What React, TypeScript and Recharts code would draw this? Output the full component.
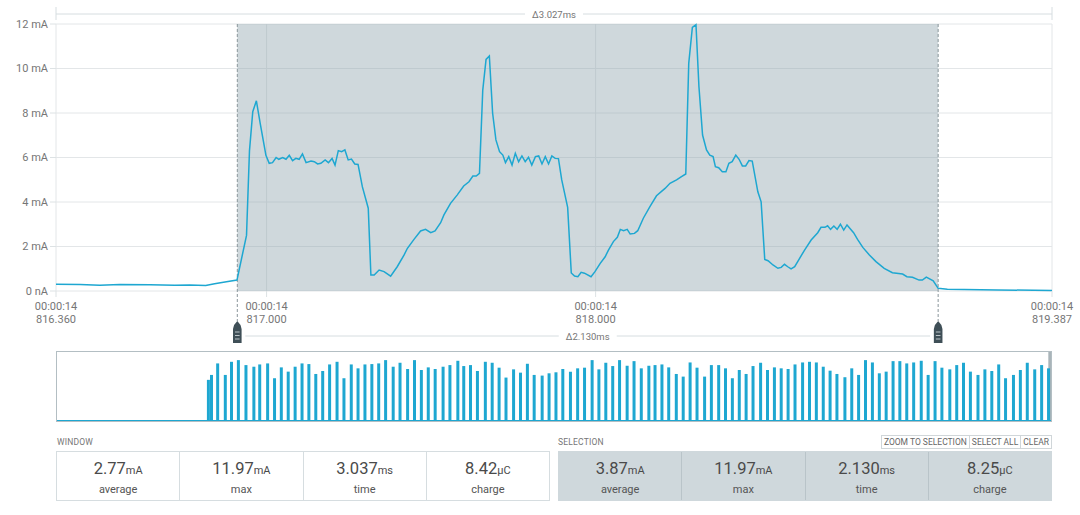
import React from 'react';
import {
  LineChart,
  Line,
  XAxis,
  YAxis,
  CartesianGrid,
  ReferenceArea,
  ReferenceLine,
  BarChart,
  Bar,
} from 'recharts';

const FONT = 'Roboto, "Noto Sans", sans-serif';
const TRACE = '#1ea7d1';
const TEXT = '#767676';

// window + selection (ms)
const windowRange = [816.36, 819.387];
const selectionRange = [816.911, 819.041];
const timeTicks = [816.36, 817, 818, 819.387];
const timePrefix = '00:00:14';
const currentTicks = [0, 2, 4, 6, 8, 10, 12];
const windowDelta = 'Δ3.027ms';
const selectionDelta = 'Δ2.130ms';

// [time ms, current mA]
const trace: [number, number][] = [
  [816.36, 0.3], [816.433, 0.29], [816.493, 0.26], [816.554, 0.29], [816.645, 0.28],
  [816.721, 0.26], [816.766, 0.27], [816.815, 0.25], [816.842, 0.33], [816.878, 0.42],
  [816.91, 0.49], [816.939, 2.5], [816.948, 6.3], [816.958, 8.06], [816.969, 8.55],
  [816.981, 7.5], [816.998, 6.1], [817.008, 5.74], [817.018, 5.77], [817.029, 6.0],
  [817.037, 5.92], [817.049, 6.0], [817.059, 5.92], [817.069, 6.1], [817.079, 5.86],
  [817.089, 5.96], [817.099, 5.92], [817.109, 6.16], [817.12, 5.77], [817.135, 5.84],
  [817.145, 5.81], [817.155, 5.71], [817.165, 5.74], [817.178, 5.89], [817.188, 5.77],
  [817.199, 5.96], [817.208, 5.66], [817.218, 6.31], [817.228, 6.26], [817.238, 6.34],
  [817.248, 5.89], [817.258, 5.93], [817.268, 5.71], [817.278, 5.69], [817.291, 4.69],
  [817.309, 3.72], [817.317, 0.72], [817.327, 0.72], [817.342, 0.94], [817.357, 0.87],
  [817.377, 0.67], [817.397, 1.09], [817.418, 1.62], [817.428, 1.92], [817.448, 2.32],
  [817.468, 2.7], [817.483, 2.77], [817.499, 2.62], [817.512, 2.7], [817.529, 3.07],
  [817.539, 3.42], [817.559, 3.94], [817.579, 4.31], [817.599, 4.72], [817.615, 4.91],
  [817.627, 5.17], [817.637, 5.17], [817.647, 5.29], [817.657, 9.03], [817.667, 10.41],
  [817.677, 10.56], [817.687, 7.99], [817.697, 6.79], [817.708, 6.26], [817.718, 6.11],
  [817.726, 5.77], [817.736, 6.04], [817.746, 5.66], [817.756, 6.19], [817.766, 5.81],
  [817.776, 6.07], [817.786, 5.81], [817.796, 6.01], [817.806, 5.66], [817.817, 6.04],
  [817.827, 6.07], [817.837, 5.71], [817.847, 6.04], [817.857, 5.71], [817.867, 6.07],
  [817.877, 5.96], [817.887, 5.95], [817.897, 4.99], [817.915, 3.76], [817.926, 0.81],
  [817.936, 0.67], [817.946, 0.64], [817.956, 0.84], [817.966, 0.8], [817.986, 0.64],
  [817.998, 0.87], [818.014, 1.24], [818.029, 1.54], [818.039, 1.84], [818.054, 2.22],
  [818.066, 2.41], [818.075, 2.77], [818.085, 2.71], [818.096, 2.77], [818.105, 2.56],
  [818.118, 2.59], [818.128, 2.71], [818.145, 3.27], [818.165, 3.79], [818.185, 4.28],
  [818.211, 4.61], [818.226, 4.84], [818.246, 4.99], [818.261, 5.14], [818.274, 5.26],
  [818.283, 10.23], [818.294, 11.85], [818.305, 11.97], [818.314, 9.18], [818.325, 7.01],
  [818.337, 6.34], [818.347, 6.11], [818.357, 6.04], [818.364, 5.59], [818.374, 5.54],
  [818.385, 5.36], [818.396, 5.36], [818.405, 5.74], [818.415, 5.81], [818.426, 6.11],
  [818.436, 5.92], [818.446, 5.62], [818.456, 5.62], [818.466, 5.86], [818.476, 5.84],
  [818.493, 4.46], [818.503, 4.01], [818.514, 1.42], [818.524, 1.36], [818.539, 1.17],
  [818.554, 1.02], [818.564, 1.06], [818.574, 1.2], [818.584, 1.09], [818.594, 0.99],
  [818.605, 1.09], [818.62, 1.47], [818.635, 1.84], [818.655, 2.29], [818.675, 2.62],
  [818.685, 2.86], [818.697, 2.86], [818.705, 2.93], [818.714, 2.77], [818.724, 2.92],
  [818.734, 2.77], [818.744, 3.0], [818.754, 2.74], [818.764, 2.97], [818.784, 2.62],
  [818.796, 2.32], [818.812, 1.96], [818.832, 1.62], [818.852, 1.32], [818.877, 1.02],
  [818.902, 0.82], [818.933, 0.76], [818.946, 0.64], [818.963, 0.62], [818.983, 0.49],
  [818.993, 0.49], [819.005, 0.62], [819.026, 0.46], [819.041, 0.12], [819.069, 0.08],
  [819.221, 0.05], [819.387, 0.02],
];

// minimap: whole recording, [time s, peak mA]
const recordingEnd = 14.82;
const pulses: [number, number][] = [
  [2.258, 8.11], [2.304, 9.08], [2.396, 11.35], [2.51, 9.08], [2.602, 11.67], [2.705, 12.0],
  [2.818, 11.02], [2.936, 10.7], [3.023, 11.15], [3.141, 11.35], [3.244, 8.43], [3.345, 10.57],
  [3.448, 9.73], [3.551, 10.7], [3.654, 11.35], [3.756, 11.22], [3.859, 9.27], [3.962, 9.86],
  [4.065, 11.15], [4.176, 11.67], [4.279, 8.43], [4.388, 11.15], [4.489, 10.38], [4.592, 11.15],
  [4.695, 11.22], [4.797, 11.35], [4.9, 12.0], [5.013, 10.7], [5.115, 11.48], [5.228, 10.25],
  [5.331, 12.0], [5.433, 10.05], [5.536, 10.57], [5.639, 10.25], [5.757, 10.7], [5.859, 11.02],
  [5.977, 11.87], [6.065, 10.83], [6.166, 11.02], [6.269, 9.86], [6.387, 11.67], [6.489, 11.48],
  [6.592, 10.51], [6.695, 8.56], [6.808, 10.18], [6.911, 9.53], [7.014, 11.28], [7.115, 9.08],
  [7.234, 8.95], [7.337, 9.4], [7.44, 9.6], [7.542, 10.25], [7.656, 9.73], [7.763, 10.38],
  [7.866, 10.51], [7.979, 12.0], [8.08, 10.18], [8.183, 11.48], [8.286, 10.83], [8.388, 12.0],
  [8.501, 10.89], [8.604, 11.8], [8.712, 10.38], [8.825, 10.89], [8.917, 11.02], [9.02, 11.15],
  [9.121, 10.57], [9.234, 9.27], [9.337, 8.75], [9.44, 11.54], [9.543, 10.51], [9.656, 8.75],
  [9.757, 11.02], [9.866, 11.02], [9.968, 10.38], [10.07, 8.43], [10.173, 10.05], [10.275, 9.27],
  [10.378, 10.83], [10.491, 11.48], [10.594, 10.05], [10.697, 10.57], [10.798, 10.38], [10.901, 10.25],
  [11.004, 11.15], [11.117, 11.54], [11.22, 11.67], [11.322, 11.54], [11.425, 10.7], [11.527, 9.92],
  [11.629, 9.27], [11.748, 8.63], [11.85, 10.38], [11.952, 9.08], [12.055, 12.0], [12.158, 11.54],
  [12.261, 9.4], [12.363, 9.73], [12.466, 11.8], [12.567, 11.8], [12.67, 11.35], [12.773, 11.54],
  [12.886, 11.87], [12.989, 9.08], [13.092, 11.8], [13.194, 10.51], [13.312, 10.18], [13.415, 11.02],
  [13.516, 11.48], [13.619, 9.73], [13.732, 9.08], [13.835, 10.18], [13.938, 9.86], [14.041, 11.15],
  [14.143, 8.43], [14.261, 9.08], [14.364, 10.05], [14.467, 11.48], [14.578, 10.18], [14.681, 11.02],
  [14.784, 10.38],
];

const windowStats = [
  { value: '2.77', unit: 'mA', label: 'average' },
  { value: '11.97', unit: 'mA', label: 'max' },
  { value: '3.037', unit: 'ms', label: 'time' },
  { value: '8.42', unit: 'µC', label: 'charge' },
];
const selectionStats = [
  { value: '3.87', unit: 'mA', label: 'average' },
  { value: '11.97', unit: 'mA', label: 'max' },
  { value: '2.130', unit: 'ms', label: 'time' },
  { value: '8.25', unit: 'µC', label: 'charge' },
];
const buttons = ['ZOOM TO SELECTION', 'SELECT ALL', 'CLEAR'];

const traceData = trace.map(([t, mA]) => ({ t, mA }));
const pulseData = pulses.map(([t, mA]) => ({ t, mA }));

const TimeTick = ({ x, y, payload }: any) => (
  <g transform={`translate(${x},${y})`}>
    <text textAnchor="middle" fill={TEXT} fontSize={11}>
      <tspan x={0} dy={11}>{timePrefix}</tspan>
      <tspan x={0} dy={13}>{Number(payload.value).toFixed(3)}</tspan>
    </text>
  </g>
);

const WindowBracket = (props: any) => {
  const { x, y, width } = props;
  const ly = y - 10;
  const cx = x + width / 2;
  return (
    <g>
      <line x1={x} x2={x + width} y1={ly} y2={ly} stroke="#d6dde0" />
      <line x1={x} x2={x} y1={ly - 7} y2={ly + 6} stroke="#d6dde0" />
      <line x1={x + width} x2={x + width} y1={ly - 7} y2={ly + 6} stroke="#d6dde0" />
      <rect x={cx - 29} y={ly - 6} width={58} height={12} fill="#fff" />
      <text x={cx} y={ly + 3.5} textAnchor="middle" fontSize={9.5} fill={TEXT}>
        {windowDelta}
      </text>
    </g>
  );
};

const SelectionArea = (props: any) => {
  const { x, y, width, height } = props;
  const ly = y + height + 45;
  const cx = x + width / 2;
  return (
    <g>
      <rect x={x} y={y} width={width} height={height} fill="#90a4ae" fillOpacity={0.43} />
      <line x1={x + 8} x2={x + width - 8} y1={ly} y2={ly} stroke="#d6dde0" />
      <rect x={cx - 29} y={ly - 6} width={58} height={12} fill="#fff" />
      <text x={cx} y={ly + 3.5} textAnchor="middle" fontSize={9.5} fill={TEXT}>
        {selectionDelta}
      </text>
    </g>
  );
};

const SelectionMarker = (props: any) => {
  const { x1, y1, y2 } = props;
  const top = Math.min(y1, y2);
  const base = Math.max(y1, y2);
  const mt = base + 30;
  const mb = base + 52;
  return (
    <g>
      <line x1={x1} x2={x1} y1={top} y2={mt} stroke="#8a959a" strokeDasharray="3 2" />
      <path
        d={`M${x1 - 4.3},${mb} L${x1 - 4.3},${mt + 8} Q${x1 - 3.5},${mt + 3} ${x1},${mt} Q${x1 + 3.5},${mt + 3} ${x1 + 4.3},${mt + 8} L${x1 + 4.3},${mb} Z`}
        fill="#3f4f57"
      />
      {[11, 14.5, 18].map((d) => (
        <line key={d} x1={x1 - 2.3} x2={x1 + 2.3} y1={mt + d} y2={mt + d} stroke="#c9d1d5" strokeWidth={0.9} />
      ))}
    </g>
  );
};

const StatRow = ({ stats, shaded }: { stats: typeof windowStats; shaded: boolean }) => (
  <div
    style={{
      display: 'flex',
      height: 50,
      border: `1px solid ${shaded ? '#cfd8dc' : '#d6dde0'}`,
      background: shaded ? '#cfd8dc' : '#fff',
      boxSizing: 'border-box',
    }}
  >
    {stats.map((s, i) => (
      <div
        key={s.label}
        style={{
          flex: 1,
          borderLeft: i ? `1px solid ${shaded ? '#b9c4c9' : '#d6dde0'}` : 'none',
          textAlign: 'center',
          color: '#4a4a4a',
        }}
      >
        <div style={{ marginTop: 8, lineHeight: '18px' }}>
          <span style={{ fontSize: 16.5 }}>{s.value}</span>
          <span style={{ fontSize: 11 }}>{s.unit}</span>
        </div>
        <div style={{ fontSize: 11, marginTop: 3, color: '#555' }}>{s.label}</div>
      </div>
    ))}
  </div>
);

export default function App() {
  return (
    <div
      style={{
        position: 'absolute',
        left: 0,
        top: 0,
        width: 1080,
        height: 515,
        background: '#fff',
        fontFamily: FONT,
        overflow: 'hidden',
      }}
    >
      <div style={{ position: 'absolute', left: 0, top: 0 }}>
        <LineChart width={1080} height={360} data={traceData} margin={{ top: 24, right: 28, left: 6, bottom: 39 }}>
          <CartesianGrid stroke="#e3e6e8" />
          <XAxis
            dataKey="t"
            type="number"
            domain={windowRange}
            ticks={timeTicks}
            interval={0}
            axisLine={false}
            tickLine={{ stroke: '#dde2e4' }}
            tickSize={6}
            height={30}
            tick={<TimeTick />}
          />
          <YAxis
            type="number"
            domain={[0, 12]}
            ticks={currentTicks}
            interval={0}
            width={50}
            axisLine={false}
            tickLine={{ stroke: '#dde2e4' }}
            tickSize={6}
            tick={{ fill: TEXT, fontSize: 11 }}
            tickFormatter={(v: number) => (v === 0 ? '0 nA' : `${v} mA`)}
          />
          <ReferenceArea x1={windowRange[0]} x2={windowRange[1]} shape={<WindowBracket />} />
          <ReferenceArea x1={selectionRange[0]} x2={selectionRange[1]} shape={<SelectionArea />} />
          <ReferenceLine x={selectionRange[0]} shape={<SelectionMarker />} />
          <ReferenceLine x={selectionRange[1]} shape={<SelectionMarker />} />
          <Line
            dataKey="mA"
            type="linear"
            stroke={TRACE}
            strokeWidth={1.5}
            dot={false}
            isAnimationActive={false}
          />
        </LineChart>
      </div>

      <div
        style={{
          position: 'absolute',
          left: 56,
          top: 351,
          width: 996,
          height: 71,
          border: '1px solid #b3bec3',
          boxSizing: 'border-box',
        }}
      >
        <BarChart width={994} height={69} data={pulseData} margin={{ top: 0, right: 0, left: 0, bottom: 0 }}>
          <XAxis dataKey="t" type="number" domain={[0, recordingEnd]} hide />
          <YAxis type="number" domain={[0, 13.6]} hide />
          <ReferenceArea x1={recordingEnd - 0.04} x2={recordingEnd} fill="#a9b4b9" fillOpacity={1} />
          <Bar dataKey="mA" fill={TRACE} barSize={3} isAnimationActive={false} />
          <ReferenceLine y={0} stroke={TRACE} strokeWidth={2} />
        </BarChart>
      </div>

      <div style={{ position: 'absolute', left: 57, top: 437, fontSize: 8.5, color: TEXT, letterSpacing: 0.2 }}>
        WINDOW
      </div>
      <div style={{ position: 'absolute', left: 56, top: 451, width: 494 }}>
        <StatRow stats={windowStats} shaded={false} />
      </div>

      <div style={{ position: 'absolute', left: 558, top: 437, fontSize: 8.5, color: TEXT, letterSpacing: 0.2 }}>
        SELECTION
      </div>
      <div style={{ position: 'absolute', right: 28, top: 435, display: 'flex' }}>
        {buttons.map((b) => (
          <div
            key={b}
            style={{
              fontSize: 8.5,
              color: '#666',
              border: '1px solid #d0d6d9',
              padding: '0 2px',
              height: 12,
              lineHeight: '12px',
              marginLeft: -1,
            }}
          >
            {b}
          </div>
        ))}
      </div>
      <div style={{ position: 'absolute', left: 558, top: 451, width: 494 }}>
        <StatRow stats={selectionStats} shaded={true} />
      </div>
    </div>
  );
}
